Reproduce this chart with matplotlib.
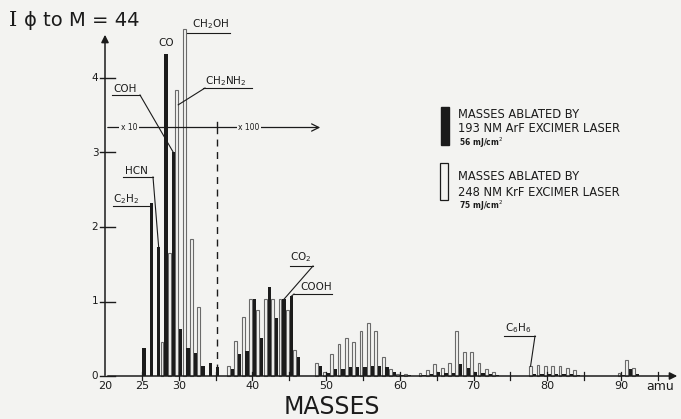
import matplotlib.pyplot as plt

# 193 nm ArF excimer laser (black bars)
arf_mass = [25, 26, 27, 28, 29, 30, 31, 32, 33, 34, 35,
            37, 38, 39, 40, 41, 42, 43, 44, 45, 46,
            49, 50, 51, 52, 53, 54, 55, 56, 57, 58, 59, 60, 61,
            63, 64, 65, 66, 67, 68, 69, 70, 71, 72, 73,
            78, 79, 80, 81, 82, 83, 84, 90, 91, 92]
arf_int = [0.37, 2.32, 1.73, 4.32, 3.00, 0.63, 0.38, 0.31, 0.13, 0.17, 0.12,
           0.09, 0.30, 0.33, 1.03, 0.51, 1.19, 0.78, 1.03, 1.07, 0.25,
           0.14, 0.04, 0.09, 0.10, 0.12, 0.12, 0.12, 0.14, 0.14, 0.12, 0.05, 0.02, 0.02,
           0.02, 0.03, 0.05, 0.04, 0.04, 0.16, 0.11, 0.05, 0.04, 0.03, 0.02,
           0.03, 0.03, 0.03, 0.03, 0.03, 0.03, 0.02, 0.02, 0.09, 0.03]

# 248 nm KrF excimer laser (open bars)
krf_mass = [28, 29, 30, 31, 32, 33,
            37, 38, 39, 40, 41, 42, 43, 44, 45, 46,
            49, 50, 51, 52, 53, 54, 55, 56, 57, 58, 59, 60, 61,
            63, 64, 65, 66, 67, 68, 69, 70, 71, 72, 73,
            78, 79, 80, 81, 82, 83, 84, 90, 91, 92]
krf_int = [0.45, 1.65, 3.84, 4.66, 1.84, 0.93,
           0.13, 0.47, 0.79, 1.03, 0.89, 1.03, 1.04, 1.03, 0.89, 0.35,
           0.17, 0.05, 0.29, 0.43, 0.51, 0.46, 0.60, 0.71, 0.60, 0.25, 0.10, 0.03, 0.03,
           0.04, 0.08, 0.16, 0.11, 0.17, 0.60, 0.32, 0.32, 0.17, 0.10, 0.05,
           0.13, 0.15, 0.13, 0.13, 0.13, 0.11, 0.08, 0.04, 0.22, 0.11]

y_ticks = [0, 1, 2, 3, 4]
x_ticklabels = [20, 25, 30, 40, 50, 60, 70, 80, 90]

BG = '#f3f3f1'
INK = '#1b1b1b'

fig = plt.figure(figsize=(6.81, 4.19), dpi=100)
fig.patch.set_facecolor(BG)
ax = fig.add_axes([0, 0, 1, 1])
ax.set_facecolor(BG)
ax.axis('off')

# pixel -> data (x: 20 amu at px 105, 7.37 px/amu ; y: 0 at px 376, 74.5 px/unit)
def P(px, py):
    return 20 + (px - 105) / 7.37, (376 - py) / 74.5

x0, y0 = P(0, 419)
x1, y1 = P(681, 0)
ax.set_xlim(x0, x1)
ax.set_ylim(y0, y1)

OFF_B, OFF_W = 0.28, -0.26
ax.bar([m + OFF_B for m in arf_mass], arf_int, width=0.45, color=INK, zorder=3)
ax.bar([m + OFF_W for m in krf_mass], krf_int, width=0.38, facecolor=BG,
       edgecolor='#6a6a6a', linewidth=0.8, zorder=2)

# axes with arrows
xe, _ = P(680, 0)
ax.annotate('', xy=(xe, 0), xytext=(20, 0),
            arrowprops=dict(arrowstyle='-|>', color=INK, lw=1.1, mutation_scale=11))
_, ye = P(0, 32)
ax.annotate('', xy=(20, ye), xytext=(20, -0.03),
            arrowprops=dict(arrowstyle='-|>', color=INK, lw=1.1, mutation_scale=11))

for t in y_ticks:
    ax.plot([19.3, 21.3], [t, t], color=INK, lw=1)
    ax.text(19.1, t, str(t), ha='right', va='center', fontsize=7.5, color=INK)
for t in range(25, 100, 5):
    ax.plot([t, t], [-0.05, 0.05], color=INK, lw=0.9)
for t in x_ticklabels:
    ax.text(t, -0.13, str(t), ha='center', va='center', fontsize=8, color=INK)

ax.text(*P(660, 386), 'amu', ha='center', va='center', fontsize=9, color=INK)
ax.text(*P(332, 407), 'MASSES', ha='center', va='center', fontsize=17, color=INK)
ax.text(*P(13, 21), 'I', ha='center', va='center', fontsize=15, color=INK,
        family='DejaVu Serif')
ax.text(*P(24, 21), 'ϕ to M = 44', ha='left', va='center', fontsize=14, color=INK)

# x10 / x100 scale arrow and dashed separator
xa0, ya = P(105, 127.5)
xa1, _ = P(323, 127.5)
ax.annotate('', xy=(xa1, ya), xytext=(xa0, ya),
            arrowprops=dict(arrowstyle='->', color=INK, lw=0.9, mutation_scale=13))
SEP = 35.13
ax.plot([SEP, SEP], [ya - 0.08, ya + 0.08], color=INK, lw=1)
ax.plot([SEP, SEP], [0.07, ya - 0.12], color=INK, lw=1, ls=(0, (5, 4)))
for lbl, px in [('x 10', 129), ('x 100', 249)]:
    ax.text(*P(px, 127.5), lbl, ha='center', va='center', fontsize=5.5, color=INK,
            bbox=dict(facecolor=BG, edgecolor='none', pad=1))

# peak labels
def label(text, tx, ty, ul, leader=None, fs=7.5):
    ax.text(*P(tx, ty), text, ha='left', va='center', fontsize=fs, color=INK)
    (ua, ub, uy) = ul
    xa, yy = P(ua, uy)
    xb, _ = P(ub, uy)
    ax.plot([xa, xb], [yy, yy], color=INK, lw=0.8)
    if leader is not None:
        ax.plot([leader[0][0], leader[1][0]], [leader[0][1], leader[1][1]], color=INK, lw=0.8)

ia = arf_mass.index
iw = krf_mass.index
ax.text(28 + OFF_B, arf_int[ia(28)] + 0.08, 'CO', ha='center', va='bottom',
        fontsize=7.5, color=INK)
label('CH$_2$OH', 192, 24, (187, 230, 33))
label('CH$_2$NH$_2$', 205, 81, (203, 252, 88),
      (P(205, 88), (30 + OFF_W + 0.2, krf_int[iw(30)] - 0.2)))
label('COH', 113, 89, (112, 140, 95),
      (P(140, 95), (29 + OFF_B, arf_int[ia(29)])))
label('HCN', 125, 171, (123, 153, 177),
      (P(153, 177), (27 + OFF_B, arf_int[ia(27)])))
label('C$_2$H$_2$', 113, 199, (113, 150, 206))
label('CO$_2$', 290, 257, (290, 313, 266),
      (P(313, 266), (44 + OFF_B, arf_int[ia(44)])))
label('COOH', 300, 287, (294, 332, 294),
      (P(294, 294), (45 + OFF_B, arf_int[ia(45)])))
label('C$_6$H$_6$', 505, 328, (504, 535, 336),
      (P(535, 336), (78 + OFF_W, krf_int[iw(78)])))

# legend
from matplotlib.patches import Rectangle
bx0, by0 = P(441, 145)
bx1, by1 = P(449, 107)
ax.add_patch(Rectangle((bx0, by0), bx1 - bx0, by1 - by0, facecolor=INK, edgecolor=INK))
wx0, wy0 = P(440, 200)
wx1, wy1 = P(448, 163)
ax.add_patch(Rectangle((wx0, wy0), wx1 - wx0, wy1 - wy0, facecolor=BG,
                       edgecolor=INK, lw=0.9))
for txt, py in [('MASSES ABLATED BY', 115), ('193 NM ArF EXCIMER LASER', 128)]:
    ax.text(*P(458, py), txt, ha='left', va='center', fontsize=8.3, color=INK)
ax.text(*P(459, 143), '56 mJ/cm$^2$', ha='left', va='center', fontsize=5.5,
        fontweight='bold', color=INK)
for txt, py in [('MASSES ABLATED BY', 176), ('248 NM KrF EXCIMER LASER', 192)]:
    ax.text(*P(458, py), txt, ha='left', va='center', fontsize=8.3, color=INK)
ax.text(*P(459, 206), '75 mJ/cm$^2$', ha='left', va='center', fontsize=5.5,
        fontweight='bold', color=INK)

fig.savefig('out.png', dpi=100, facecolor=BG)
